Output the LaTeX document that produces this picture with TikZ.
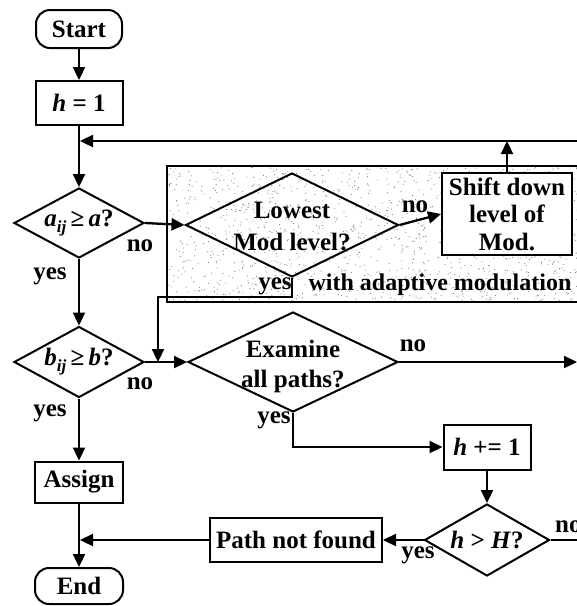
\documentclass[tikz,border=0pt]{standalone}
\usepackage{fontspec}
\setmainfont{Liberation Serif}
\usetikzlibrary{shapes.geometric,arrows.meta}
\begin{document}
\begin{tikzpicture}[x=1pt,y=-1pt,
  every node/.style={font=\bfseries\fontsize{25}{29}\selectfont},
  flow/.style={line width=2.3pt,-{Triangle[length=13pt,width=12pt]}},
  plain/.style={line width=2.3pt},
  proc/.style={draw,line width=2pt,rectangle,inner sep=0pt,fill=white},
  term/.style={draw,line width=2pt,rectangle,rounded corners=14pt,inner sep=0pt,fill=white},
  dec/.style={draw,line width=2pt,diamond,inner sep=0pt},
  lbl/.style={inner sep=0pt},
]
\useasboundingbox (0,0) rectangle (577,606);
\clip (0,0) rectangle (577,606);

% stippled region for the adaptive-modulation branch
\pgfmathsetseed{17}
\foreach \i in {1,...,1400}{
  \pgfmathsetmacro\rx{167+rnd*423}
  \pgfmathsetmacro\ry{166+rnd*136}
  \fill[black!55] (\rx,\ry) circle (0.55pt);
}
\draw[line width=1.6pt] (590,166) -- (167,166) -- (167,302) -- (590,302);

% main column
\node[term,minimum width=86pt,minimum height=38pt] (start) at (79,29) {Start};
\node[proc,minimum width=87pt,minimum height=44pt] (h1) at (79,103) {\textit{h} = 1};
\node[dec,fill=white,minimum width=130pt,minimum height=70pt] (aij) at (79,223) {};
\node[lbl] at (aij) {\textit{a}\raisebox{-6pt}{\fontsize{17}{17}\selectfont\textit{ij}}\,≥\,\textit{a}?};
\node[dec,fill=white,minimum width=130pt,minimum height=71pt] (bij) at (79,362) {};
\node[lbl] at (bij) {\textit{b}\raisebox{-6pt}{\fontsize{17}{17}\selectfont\textit{ij}}\,≥\,\textit{b}?};
\node[proc,minimum width=88pt,minimum height=41pt] (assign) at (79,482) {Assign};
\node[term,minimum width=88pt,minimum height=36pt] (end) at (79,586) {End};

% adaptive modulation branch
\node[dec,minimum width=213pt,minimum height=104pt] (low) at (292,225) {};
\node[lbl,align=center,font=\bfseries\fontsize{25}{32}\selectfont] at (292,226) {Lowest\\Mod level?};
\node[proc,minimum width=130pt,minimum height=82pt] (shift) at (507,214) {};
\node[lbl,align=center,font=\bfseries\fontsize{25}{27.5}\selectfont] at (shift) {Shift down\\level of\\Mod.};

% path search branch
\node[dec,fill=white,minimum width=210pt,minimum height=100pt] (exam) at (293,362) {};
\node[lbl,align=center,font=\bfseries\fontsize{25}{30}\selectfont] at (293,366) {Examine\\all paths?};
\node[proc,minimum width=87pt,minimum height=45pt] (hinc) at (487,447) {\textit{h} += 1};
\node[dec,fill=white,minimum width=125pt,minimum height=72pt] (hH) at (487,540) {};
\node[lbl] at (hH) {\textit{h} > \textit{H}?};
\node[proc,minimum width=172pt,minimum height=44pt] (pnf) at (296,540) {Path not found};

% junction points
\coordinate (fbJ) at (79,141);
\coordinate (fbR) at (590,141);
\coordinate (yb) at (158,297);
\coordinate (j1) at (158,362);
\coordinate (exR) at (577,362);
\coordinate (hR) at (590,540);
\coordinate (j2) at (79,540);

% connectors
\draw[flow] (start) -- (h1);
\draw[flow] (h1) -- (aij);
\draw[flow,shorten >=1pt] (fbR) -- (fbJ);
\draw[flow] (shift.north) -- (shift.north |- fbJ);
\draw[flow] (aij.east) -- (low.west);
\draw[flow] (low.east) -- (shift.west);
\draw[flow] (low.south) |- (yb) -- (j1);
\draw[flow] (aij.south) -- (bij.north);
\draw[flow] (bij.east) -- (exam.west);
\draw[flow] (exam.east) -- (exR);
\draw[flow] (exam.south) |- (hinc.west);
\draw[flow] (hinc) -- (hH);
\draw[flow] (hH.west) -- (pnf.east);
\draw[plain] (hH.east) -- (hR);
\draw[flow,shorten >=1pt] (pnf.west) -- (j2);
\draw[flow] (bij.south) -- (assign.north);
\draw[flow] (assign.south) -- (end.north);

% branch labels
\node[lbl] at (140,246) {no};
\node[lbl] at (50,276) {yes};
\node[lbl] at (415,207) {no};
\node[lbl] at (275,286) {yes};
\node[lbl,font=\bfseries\fontsize{24}{29}\selectfont] at (440,285) {with adaptive modulation};
\node[lbl] at (140,384) {no};
\node[lbl] at (50,413) {yes};
\node[lbl] at (413,346) {no};
\node[lbl] at (274,420) {yes};
\node[lbl] at (418,555) {yes};
\node[lbl,anchor=west] at (555,527) {no};
\end{tikzpicture}
\end{document}
